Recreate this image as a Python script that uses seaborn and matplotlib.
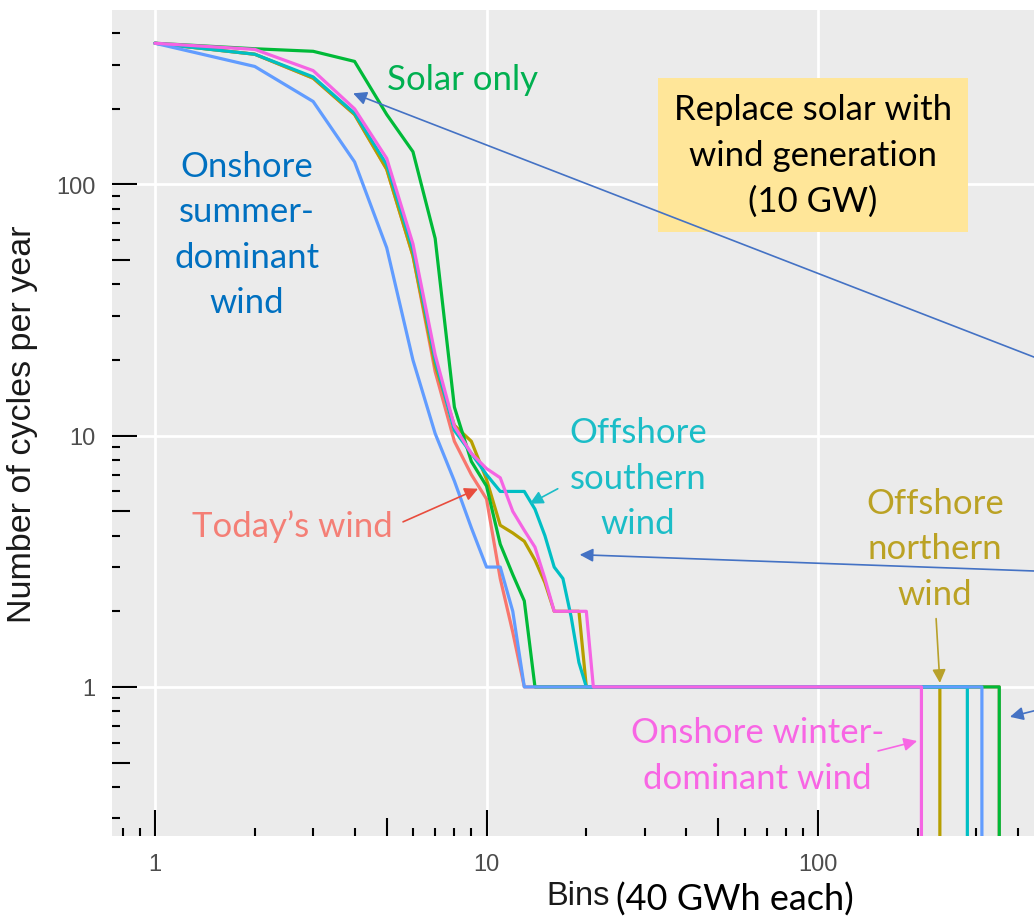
import matplotlib
matplotlib.use("Agg")
import matplotlib.pyplot as plt
import seaborn as sns
import pandas as pd

# cycles per year in each storage bin (40 GWh each);
# the last two points of each series are the flat tail at 1 and the drop to 0
todays_bins = [1, 2, 3, 4, 5, 6, 7, 8, 9, 10, 11, 12, 13, 352, 353]
todays_cycles = [365, 330, 265, 190, 115, 52, 18, 9.5, 7.0, 5.6, 2.7, 1.65, 1, 1, 0]

north_bins = [1, 2, 3, 4, 5, 6, 7, 8, 9, 10, 11, 12, 13, 14, 15, 16, 17, 18, 19, 20, 233, 234]
north_cycles = [365, 330, 265, 190, 115, 52, 19, 11, 9.5, 6.7, 4.4, 4.1, 3.8, 3.2, 2.6, 2, 2, 2, 2, 1, 1, 0]

solar_bins = [1, 2, 3, 4, 5, 6, 7, 8, 9, 10, 11, 12, 13, 14, 352, 353]
solar_cycles = [365, 347, 339, 309, 190, 135, 61, 13, 7.9, 6.3, 3.7, 2.8, 2.2, 1, 1, 0]

south_bins = [1, 2, 3, 4, 5, 6, 7, 8, 9, 10, 11, 12, 13, 14, 15, 16, 17, 18, 19, 20, 282, 283]
south_cycles = [365, 330, 268, 192, 120, 55, 20, 10.5, 8.5, 7.0, 6, 6, 6, 5.1, 4.0, 3.0, 2.7, 1.9, 1.25, 1, 1, 0]

summer_bins = [1, 2, 3, 4, 5, 6, 7, 8, 9, 10, 11, 12, 13, 312, 313]
summer_cycles = [365, 295, 214, 123, 56, 20, 10.2, 6.6, 4.3, 3, 3, 2, 1, 1, 0]

winter_bins = [1, 2, 3, 4, 5, 6, 7, 8, 9, 10, 11, 12, 13, 14, 15, 16, 17, 18, 19, 20, 21, 205, 206]
winter_cycles = [365, 345, 284, 200, 127, 58, 21, 10.9, 8.5, 7.4, 6.8, 5.0, 4.2, 3.6, 2.7, 2, 2, 2, 2, 2, 1, 1, 0]

scenarios = ["Today's wind", "Offshore northern", "Solar only",
             "Offshore southern", "Onshore summer", "Onshore winter"]
colors = ["#F8766D", "#B79F00", "#00BA38", "#00BFC4", "#619CFF", "#F564E3"]

frames = []
for name, b, c in zip(scenarios,
                      [todays_bins, north_bins, solar_bins, south_bins, summer_bins, winter_bins],
                      [todays_cycles, north_cycles, solar_cycles, south_cycles, summer_cycles, winter_cycles]):
    frames.append(pd.DataFrame({"bin": b, "cycles": c, "scenario": name}))
df = pd.concat(frames, ignore_index=True)

sns.set_theme(style="darkgrid")
plt.rcParams["font.family"] = ["Liberation Sans", "DejaVu Sans"]
plt.rcParams["axes.facecolor"] = "#EBEBEB"

XMIN, XMAX = 0.742, 448
YMIN, YMAX = 0.255, 495

fig = plt.figure(figsize=(10.34, 9.2), dpi=100)
ax = fig.add_axes([112 / 1034, 83 / 920, 922 / 1034, 826 / 920])

sns.lineplot(data=df, x="bin", y="cycles", hue="scenario", hue_order=scenarios,
             palette=dict(zip(scenarios, colors)), estimator=None, sort=False,
             legend=False, linewidth=2.3, ax=ax)

ax.set_xscale("log")
ax.set_yscale("log")
ax.set_xlim(XMIN, XMAX)
ax.set_ylim(YMIN, YMAX)
ax.minorticks_off()
ax.set_xticks([1, 10, 100], ["1", "10", "100"])
ax.set_yticks([1, 10, 100], ["1", "10", "100"])
ax.grid(True, which="major", color="white", linewidth=2)
for s in ax.spines.values():
    s.set_visible(False)
ax.tick_params(axis="both", which="major", direction="out", length=6, width=1.2,
               color="#333333", labelcolor="#4D4D4D", labelsize=17, pad=6)
ax.set_xlabel("")
ax.set_ylabel("")

# log ticks drawn inside the panel (long at decades, mid at 5s, short elsewhere)
xt = ax.get_xaxis_transform()
yt = ax.get_yaxis_transform()
for dec in [0.1, 1, 10, 100]:
    for m in range(1, 10):
        v = dec * m
        if m == 1:
            lx, ly = 26 / 826, 25 / 922
        elif m == 5:
            lx, ly = 18 / 826, 18 / 922
        else:
            lx, ly = 8 / 826, 8 / 922
        if XMIN < v < XMAX:
            ax.plot([v, v], [0, lx], transform=xt, color="black", lw=1.5,
                    solid_capstyle="butt", clip_on=False)
        if YMIN < v < YMAX:
            ax.plot([0, ly], [v, v], transform=yt, color="black", lw=1.5,
                    solid_capstyle="butt", clip_on=False)

ax.text(-0.0976, 0.5, "Number of cycles per year", rotation=90, ha="center", va="center",
        transform=ax.transAxes, fontsize=24.5, color="#1A1A1A")
fig.text(578 / 1034, 1 - 897 / 920, "Bins", ha="center", va="center",
         fontsize=23.5, color="#1A1A1A")
fig.text(735 / 1034, 1 - 900 / 920, "(40 GWh each)", ha="center", va="center",
         fontsize=26, color="black", family=["Lato", "DejaVu Sans"])

lab = dict(family=["Lato", "DejaVu Sans"], fontsize=25, ha="center", va="center",
           linespacing=1.52)
ax.text(8.44, 264, "Solar only", color="#00B050", **lab)
ax.text(1.895, 63.5, "Onshore\nsummer-\ndominant\nwind", color="#0070C0", **lab)
ax.text(96.6, 131, "Replace solar with\nwind generation\n(10 GW)", color="black",
        bbox=dict(boxstyle="square,pad=0.45", facecolor="#FFE699", edgecolor="none"), **lab)
ax.text(28.6, 6.8, "Offshore\nsouthern\nwind", color="#1BBDC7", **lab)
ax.text(2.59, 4.38, "Today\u2019s wind", color="#F47F76", **lab)
ax.text(225, 3.56, "Offshore\nnorthern\nwind", color="#BBA224", **lab)
ax.text(65.5, 0.536, "Onshore winter-\ndominant wind", color="#F866E4", **lab)


def arrow(head, tail, color):
    ax.annotate("", xy=head, xytext=tail, annotation_clip=False,
                arrowprops=dict(arrowstyle="-|>", color=color, lw=1.2,
                                mutation_scale=20, shrinkA=0, shrinkB=0))


arrow((9.43, 6.15), (5.6, 4.54), "#E84C3D")
arrow((13.5, 5.36), (16.4, 6.15), "#1BBDC7")
arrow((3.96, 230.6), (1420, 11.4), "#4472C4")
arrow((19.1, 3.36), (1420, 2.74), "#4472C4")
arrow((379, 0.76), (709, 0.934), "#4472C4")
arrow((233, 1.037), (227, 1.87), "#B8A12A")
arrow((199, 0.609), (151.7, 0.556), "#F866E4")

fig.savefig("out.png", dpi=100)
plt.close(fig)
